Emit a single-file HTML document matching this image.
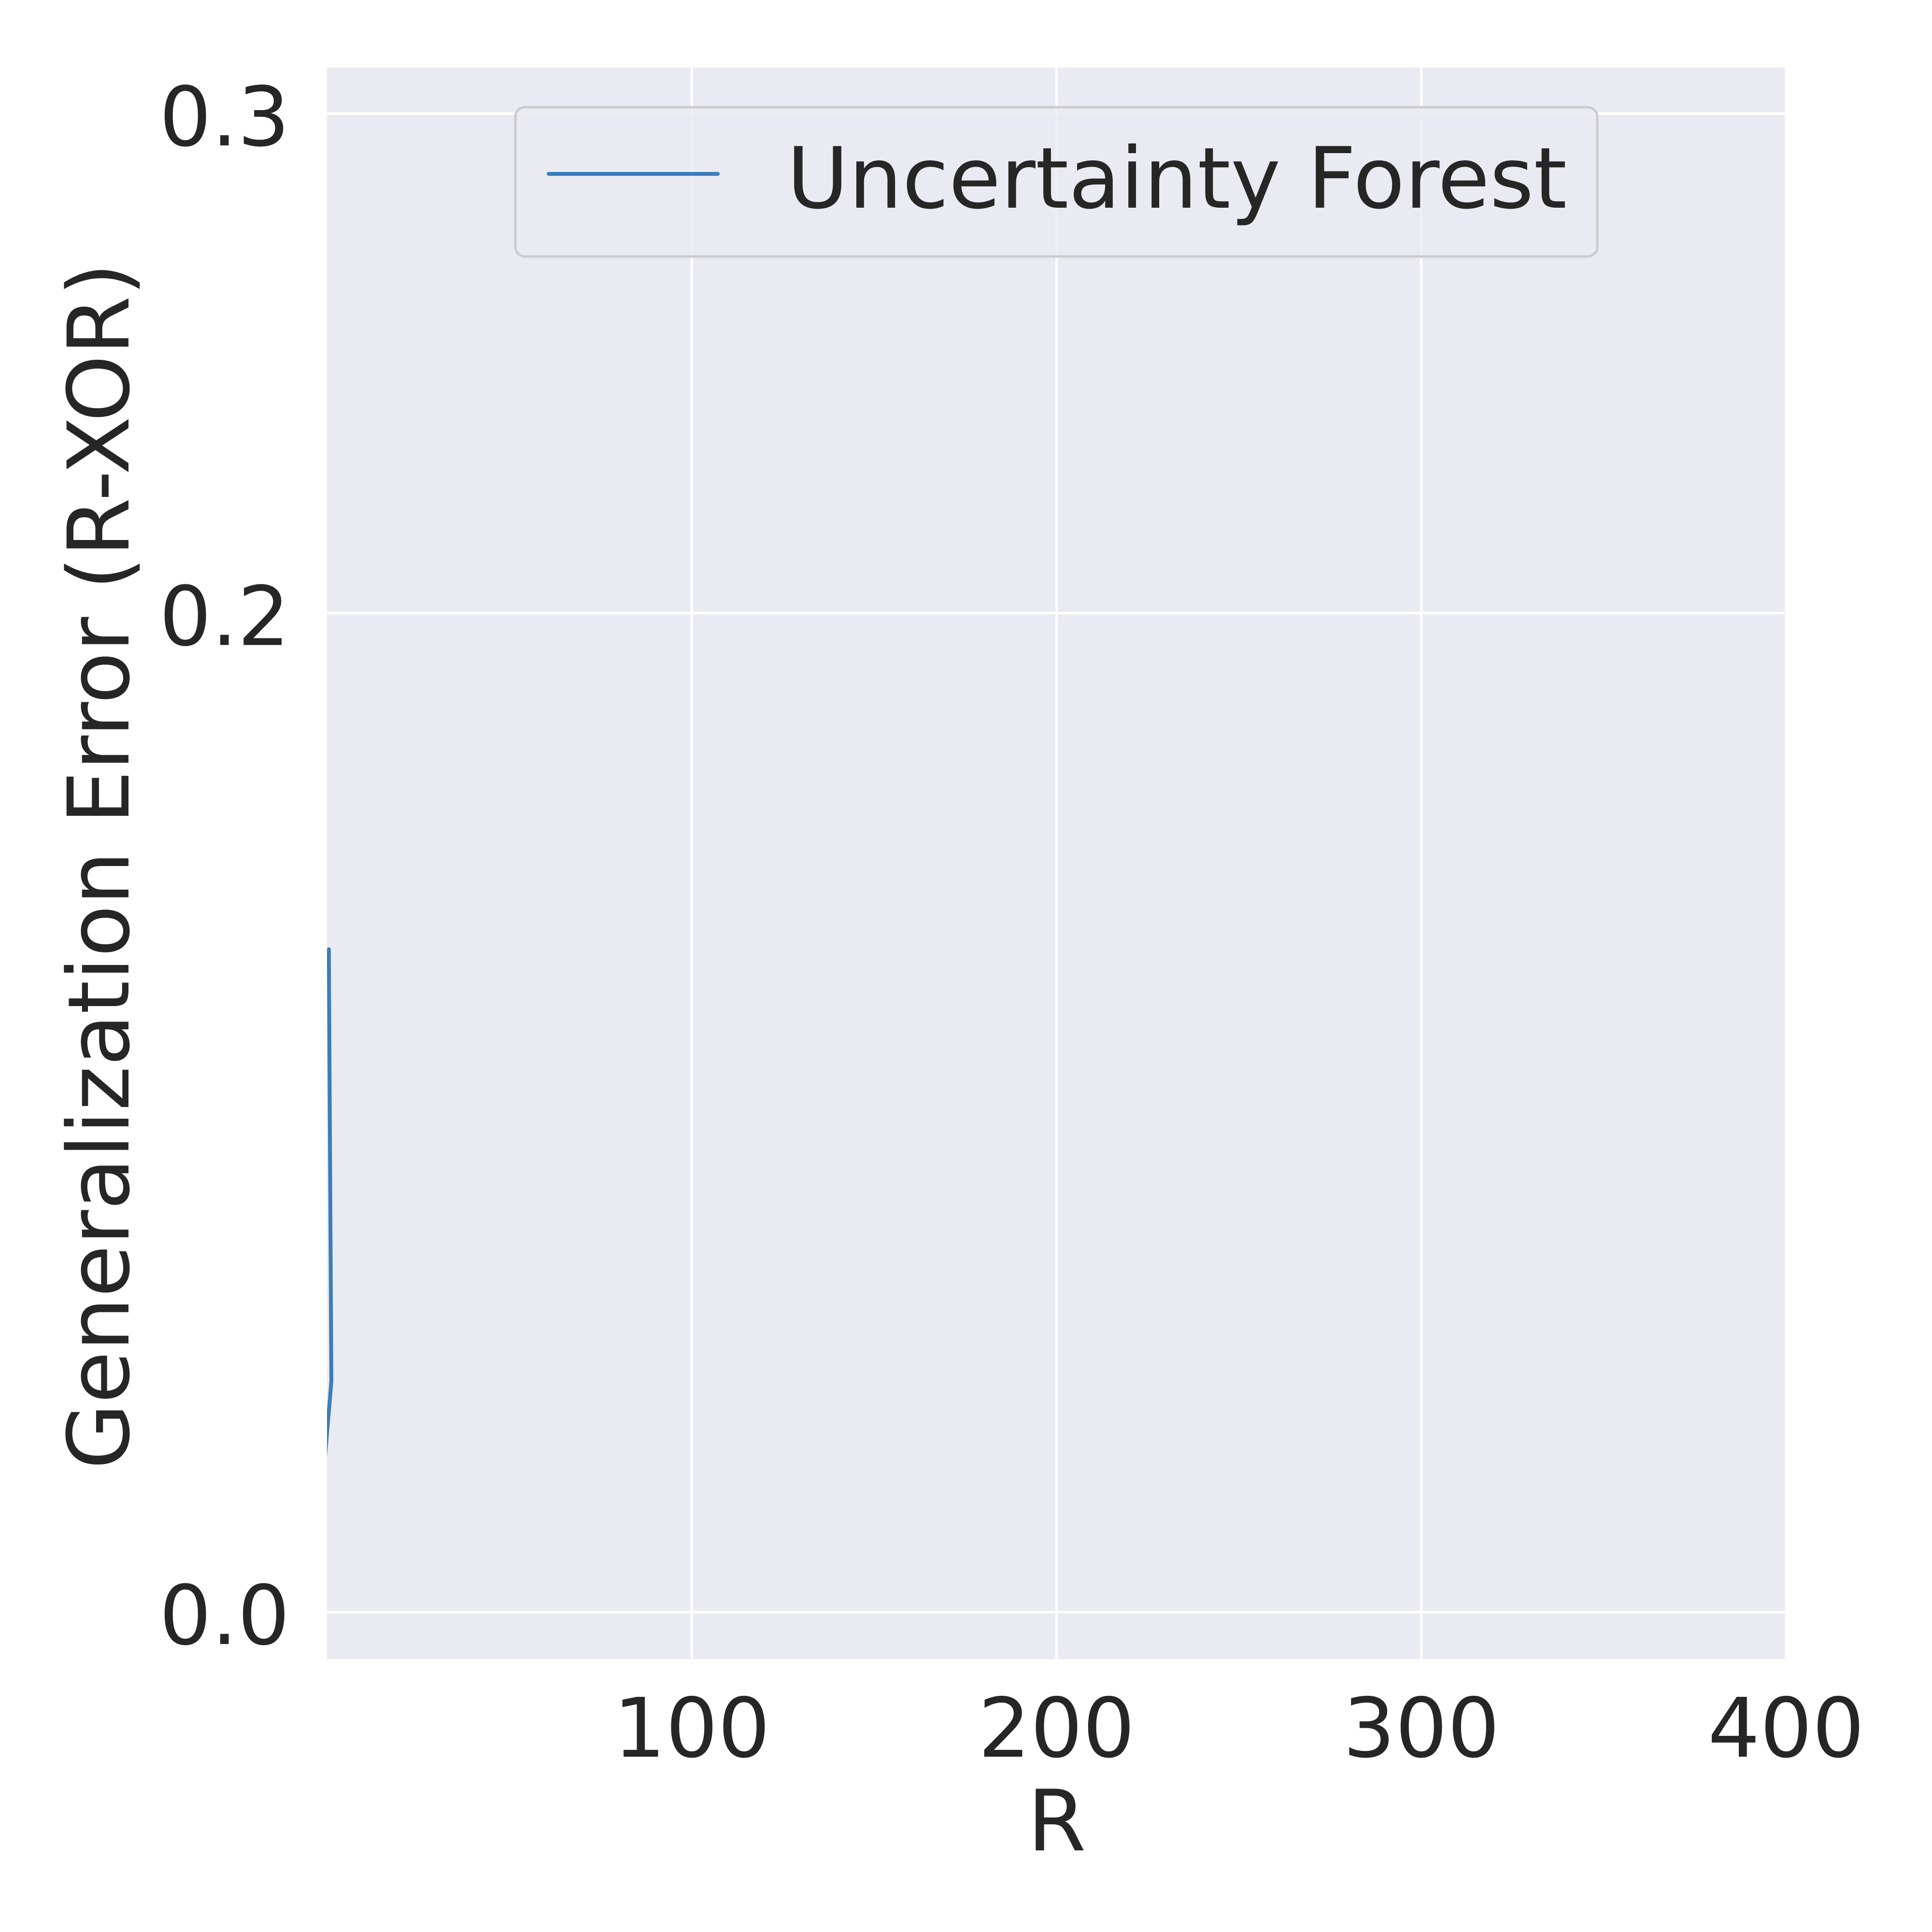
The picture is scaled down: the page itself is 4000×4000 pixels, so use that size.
<!DOCTYPE html>
<html><head><meta charset="utf-8"><style>body{margin:0;background:#fff}svg{display:block}</style></head>
<body>
<svg id="chart" width="4000" height="4000" xmlns="http://www.w3.org/2000/svg" font-family="'DejaVu Sans','Liberation Sans',sans-serif" fill="#262626">
<rect x="677" y="140" width="3021" height="3295" fill="#EAEAF2"/>
<g id="grid"></g>
<defs><clipPath id="clip"><rect x="677" y="140" width="3021" height="3295"/></clipPath></defs>
<g id="series" clip-path="url(#clip)"></g>
<g id="ticks"></g>
<text x="2188" y="3831" font-size="175" text-anchor="middle">R</text>
<text transform="translate(266,1793) rotate(-90)" font-size="176" text-anchor="middle">Generalization Error (R-XOR)</text>
<g>
<rect x="1067" y="222" width="2240" height="309" rx="20" fill="#EAEAF2" fill-opacity="0.8" stroke="#CCCCCC" stroke-width="5"/>
<line x1="1136" y1="360" x2="1486" y2="360" stroke="#3A7DBA" stroke-width="8" stroke-linecap="round"/>
<text x="1629" y="430" font-size="175">Uncertainty Forest</text>
</g>
</svg>
<script>
const xTicks = [100, 200, 300, 400];
const yTicks = [0.0, 0.2, 0.3];
const yTickLabels = ["0.0", "0.2", "0.3"];
const seriesX = [0.5, 1.2, -0.5];
const seriesY = [0.1327, 0.0462, 0.0314];
const L=677,R=3698,T=140,B=3435;
const xMin=0,xMax=400,yMin=-0.0094,yMax=0.3092;
const sx=v=>L+(v-xMin)/(xMax-xMin)*(R-L);
const sy=v=>B-(v-yMin)/(yMax-yMin)*(B-T);
const NS="http://www.w3.org/2000/svg";
const grid=document.getElementById('grid'),ticks=document.getElementById('ticks'),series=document.getElementById('series');
xTicks.forEach(t=>{
  const l=document.createElementNS(NS,'line');
  l.setAttribute('x1',sx(t));l.setAttribute('x2',sx(t));l.setAttribute('y1',T);l.setAttribute('y2',B);
  l.setAttribute('stroke','#fff');l.setAttribute('stroke-width','5');
  
  
  grid.appendChild(l);
  const tx=document.createElementNS(NS,'text');
  tx.setAttribute('x',sx(t));tx.setAttribute('y',3637);tx.setAttribute('font-size','170');tx.setAttribute('text-anchor','middle');
  tx.textContent=String(t);
  
  
  ticks.appendChild(tx);
});
yTicks.forEach((t,i)=>{
  const l=document.createElementNS(NS,'line');
  l.setAttribute('y1',sy(t));l.setAttribute('y2',sy(t));l.setAttribute('x1',L);l.setAttribute('x2',R);
  l.setAttribute('stroke','#fff');l.setAttribute('stroke-width','5');
  
  
  grid.appendChild(l);
  const tx=document.createElementNS(NS,'text');
  tx.setAttribute('x',600);tx.setAttribute('y',sy(t)+66);tx.setAttribute('font-size','170');tx.setAttribute('text-anchor','end');
  tx.textContent=yTickLabels[i];
  
  
  ticks.appendChild(tx);
});
const p=document.createElementNS(NS,'polyline');
p.setAttribute('points',seriesX.map((x,i)=>sx(x)+','+sy(seriesY[i])).join(' '));
p.setAttribute('fill','none');p.setAttribute('stroke','#3A7DBA');p.setAttribute('stroke-width','8');p.setAttribute('stroke-linecap','round');


series.appendChild(p);
</script>
</body></html>
